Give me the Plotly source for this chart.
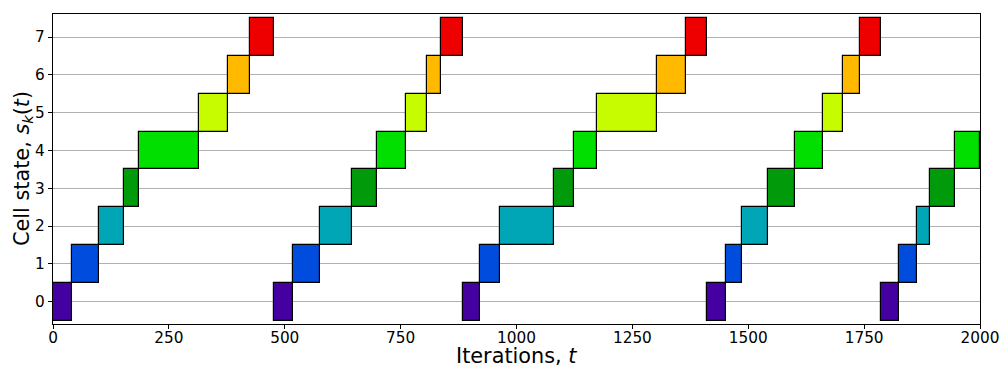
import plotly.graph_objects as go

# switch times (iterations) and the cell state held between consecutive switch times
switch_times = [0, 40, 100, 153, 186, 316, 378, 424, 477, 518, 576, 646, 700, 761, 806,
                837, 885, 922, 964, 1081, 1123, 1174, 1303, 1366, 1411, 1452, 1487, 1543,
                1600, 1662, 1704, 1742, 1787, 1826, 1864, 1893, 1947, 2000]
states = [0, 1, 2, 3, 4, 5, 6, 7,
          0, 1, 2, 3, 4, 5, 6, 7,
          0, 1, 2, 3, 4, 5, 6, 7,
          0, 1, 2, 3, 4, 5, 6, 7,
          0, 1, 2, 3, 4]
state_colors = ["rgb(68,0,161)", "rgb(0,77,221)", "rgb(0,166,181)", "rgb(0,154,10)",
                "rgb(0,223,0)", "rgb(198,251,0)", "rgb(255,186,0)", "rgb(238,0,0)"]
y_ticks = [0, 1, 2, 3, 4, 5, 6, 7]
x_ticks = [0, 250, 500, 750, 1000, 1250, 1500, 1750, 2000]
x_title = "Iterations, <i>t</i>"
y_title = "Cell state, <i>s<sub>k</sub></i>(<i>t</i>)"

starts = switch_times[:-1]
durations = [b - a for a, b in zip(switch_times[:-1], switch_times[1:])]

fig = go.Figure(go.Bar(
    orientation="h",
    y=states,
    x=durations,
    base=starts,
    width=1.0,
    marker=dict(color=[state_colors[s] for s in states],
                line=dict(color="black", width=1.2)),
    showlegend=False,
    hoverinfo="skip",
))

font_family = "DejaVu Sans"
tick_size = 15.3
title_size = 20.8
fig.update_layout(
    width=1002, height=367,
    margin=dict(l=53, r=22, t=14, b=43),
    plot_bgcolor="white", paper_bgcolor="white",
    font=dict(family=font_family, color="black", size=tick_size),
    bargap=0,
)
fig.update_xaxes(
    range=[0, 2000], tickvals=x_ticks, ticktext=[str(v) for v in x_ticks],
    showgrid=False, zeroline=False, automargin=False,
    showline=True, linecolor="black", linewidth=1.2, mirror=True,
    ticks="outside", ticklen=4, tickcolor="black", ticklabelstandoff=-4,
    tickfont=dict(size=tick_size),
)
fig.update_yaxes(
    range=[-0.59, 7.61], tickvals=y_ticks, ticktext=[str(v) for v in y_ticks],
    showgrid=True, gridcolor="#b0b0b0", gridwidth=1, zeroline=False, automargin=False,
    showline=True, linecolor="black", linewidth=1.2, mirror=True,
    ticks="outside", ticklen=4, tickcolor="black",
    tickfont=dict(size=tick_size),
)
fig.add_annotation(text=x_title, xref="paper", yref="paper", x=0.5, y=0,
                   xanchor="center", yanchor="middle", yshift=-32, showarrow=False,
                   font=dict(size=title_size))
fig.add_annotation(text=y_title, xref="paper", yref="paper", x=0, y=0.5,
                   xanchor="center", yanchor="middle", xshift=-30, textangle=-90,
                   showarrow=False, font=dict(size=title_size))

fig.write_html("out.html")
